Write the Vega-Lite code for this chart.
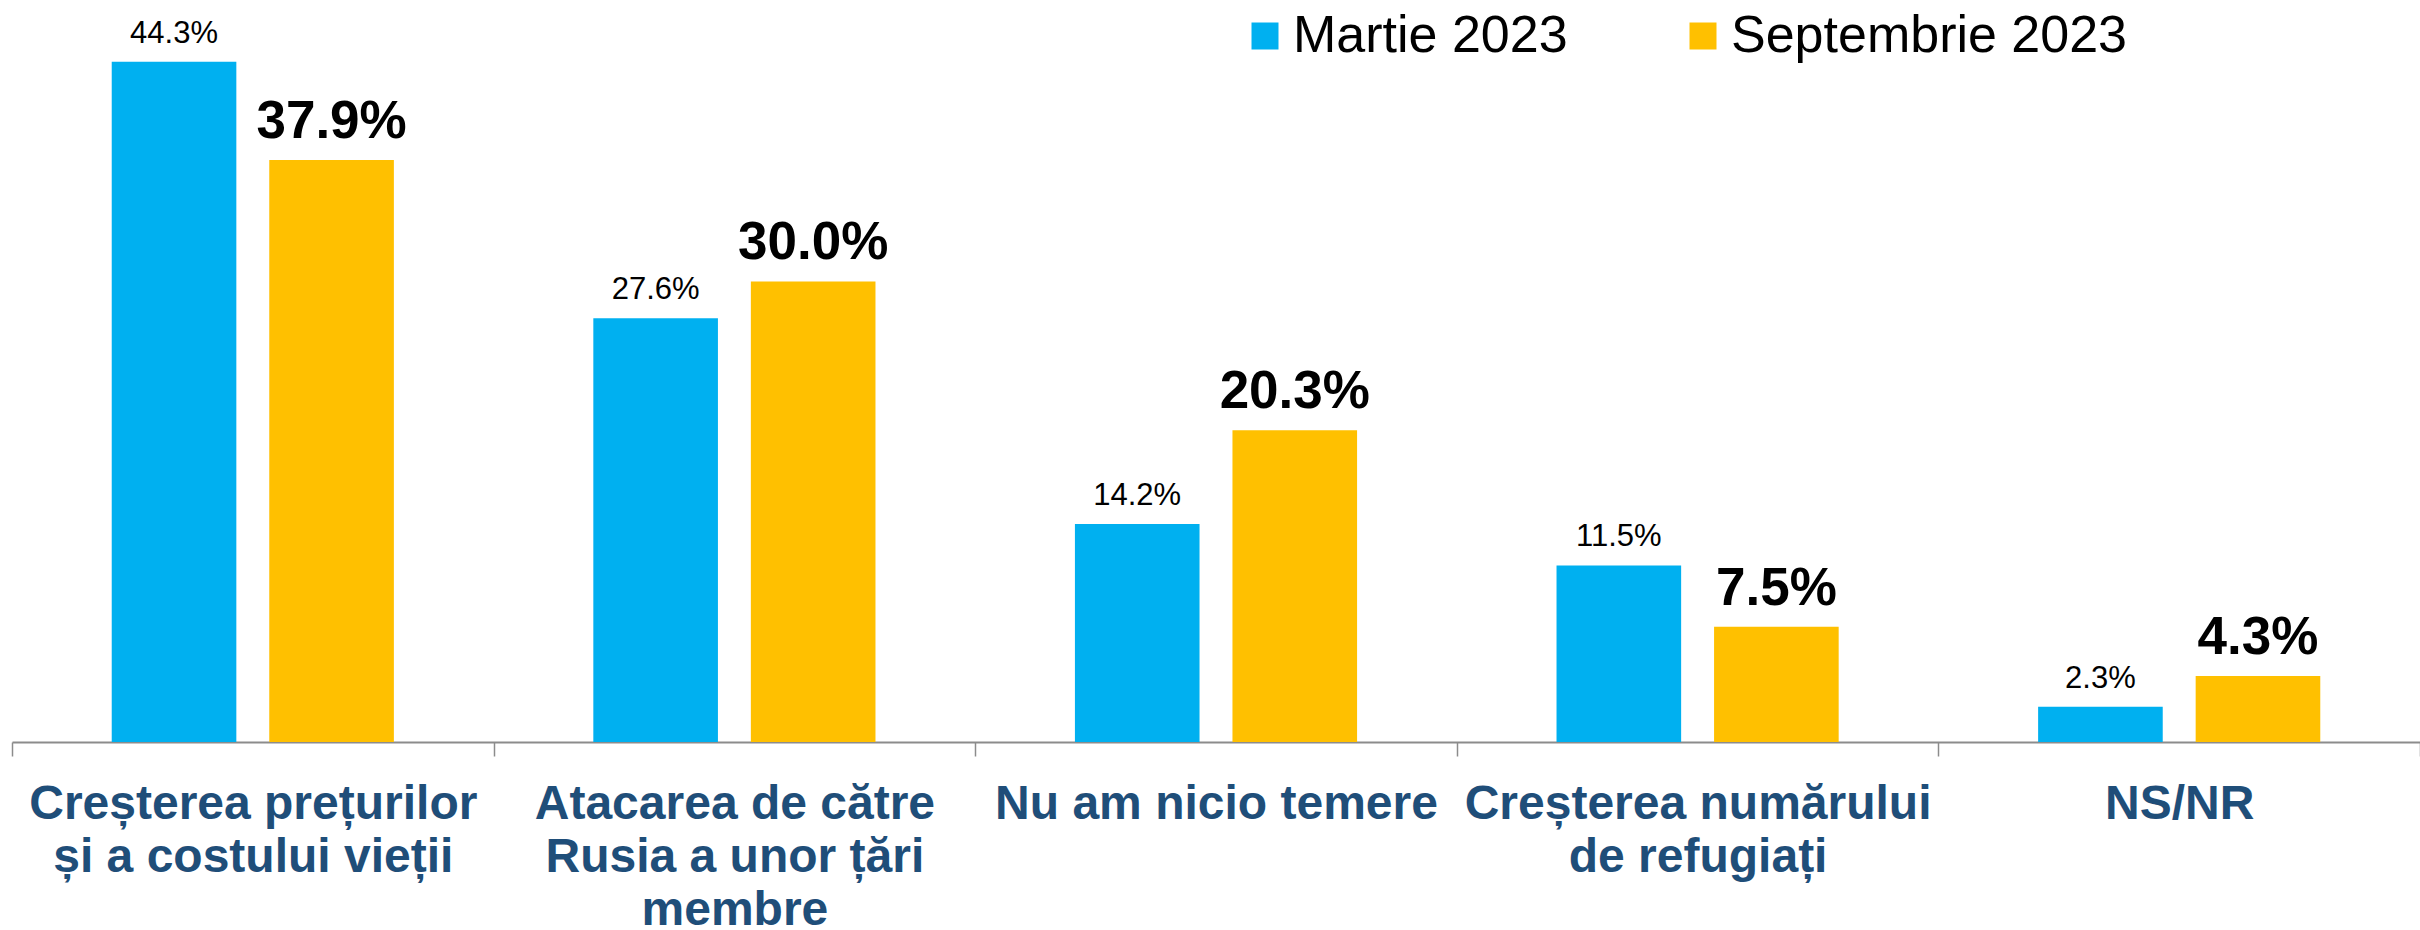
{
  "$schema": "https://vega.github.io/schema/vega-lite/v6.json",
  "autosize": "none",
  "width": 2408,
  "height": 737,
  "padding": {"left": 12, "top": 5, "right": 0, "bottom": 188},
  "background": "white",
  "config": {
    "view": {"stroke": null},
    "font": "Liberation Sans"
  },
  "data": {
    "values": [
      {"cat": "Creșterea prețurilor și a costului vieții", "period": "Martie 2023", "value": 0.443},
      {"cat": "Creșterea prețurilor și a costului vieții", "period": "Septembrie 2023", "value": 0.379},
      {"cat": "Atacarea de către Rusia a unor țări membre", "period": "Martie 2023", "value": 0.276},
      {"cat": "Atacarea de către Rusia a unor țări membre", "period": "Septembrie 2023", "value": 0.300},
      {"cat": "Nu am nicio temere", "period": "Martie 2023", "value": 0.142},
      {"cat": "Nu am nicio temere", "period": "Septembrie 2023", "value": 0.203},
      {"cat": "Creșterea numărului de refugiați", "period": "Martie 2023", "value": 0.115},
      {"cat": "Creșterea numărului de refugiați", "period": "Septembrie 2023", "value": 0.075},
      {"cat": "NS/NR", "period": "Martie 2023", "value": 0.023},
      {"cat": "NS/NR", "period": "Septembrie 2023", "value": 0.043}
    ]
  },
  "encoding": {
    "x": {
      "field": "cat",
      "type": "nominal",
      "sort": null,
      "title": null,
      "scale": {"paddingInner": 0, "paddingOuter": 0},
      "axis": {
        "labelAngle": 0,
        "tickBand": "extent",
        "domainColor": "#8c8c8c",
        "domainWidth": 2,
        "tickColor": "#8c8c8c",
        "tickWidth": 1.5,
        "tickSize": 14,
        "labelPadding": 24,
        "labelFont": "Liberation Sans",
        "labelFontSize": 48,
        "labelFontWeight": "bold",
        "labelColor": "#1F4E79",
        "labelLineHeight": 53,
        "labelLimit": 0,
        "labelBaseline": "top",
        "labelExpr": "datum.label == 'Creșterea prețurilor și a costului vieții' ? ['Creșterea prețurilor', 'și a costului vieții'] : datum.label == 'Atacarea de către Rusia a unor țări membre' ? ['Atacarea de către', 'Rusia a unor țări', 'membre'] : datum.label == 'Creșterea numărului de refugiați' ? ['Creșterea numărului', 'de refugiați'] : datum.label"
      }
    },
    "xOffset": {
      "field": "period",
      "type": "nominal",
      "scale": {"paddingInner": 0.209, "paddingOuter": 0.633}
    },
    "y": {
      "field": "value",
      "type": "quantitative",
      "scale": {"domain": [0, 0.48]},
      "axis": null
    }
  },
  "layer": [
    {
      "mark": {"type": "bar"},
      "encoding": {
        "color": {
          "field": "period",
          "type": "nominal",
          "scale": {"domain": ["Martie 2023", "Septembrie 2023"], "range": ["#00B0F0", "#FFC000"]},
          "legend": {
            "title": null,
            "orient": "none",
            "direction": "horizontal",
            "legendX": 1227,
            "legendY": 5,
            "padding": 0,
            "symbolType": "square",
            "symbolSize": 729,
            "symbolStrokeWidth": 0,
            "labelFontSize": 52,
            "labelColor": "#000000",
            "labelFont": "Liberation Sans",
            "labelOffset": 2,
            "columnPadding": 109,
            "labelLimit": 0
          }
        }
      }
    },
    {
      "transform": [{"filter": "datum.period == 'Martie 2023'"}],
      "mark": {"type": "text", "baseline": "alphabetic", "dy": -19, "fontSize": 31, "color": "#000000", "font": "Liberation Sans"},
      "encoding": {
        "text": {"field": "value", "type": "quantitative", "format": ".1%"}
      }
    },
    {
      "transform": [{"filter": "datum.period == 'Septembrie 2023'"}],
      "mark": {"type": "text", "baseline": "alphabetic", "dy": -22, "fontSize": 53, "fontWeight": "bold", "color": "#000000", "font": "Liberation Sans"},
      "encoding": {
        "text": {"field": "value", "type": "quantitative", "format": ".1%"}
      }
    }
  ]
}
